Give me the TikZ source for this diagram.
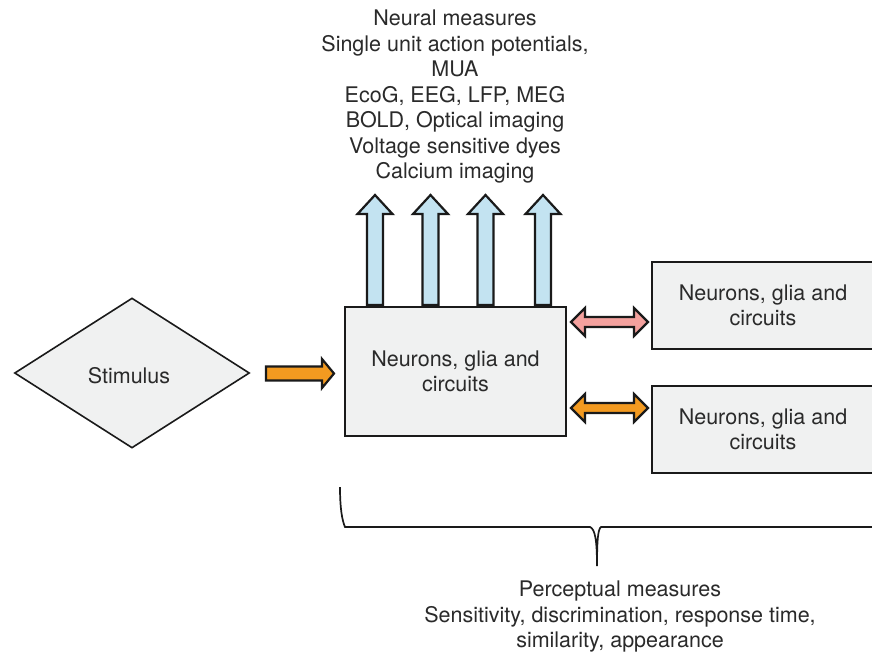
\documentclass[tikz,border=0pt]{standalone}
\usepackage{fontspec}
\setmainfont{TeX Gyre Heros}
\usetikzlibrary{shapes.geometric}
\definecolor{boxfill}{HTML}{F0F1F1}
\definecolor{txt}{HTML}{2A2A2A}
\definecolor{bluefill}{HTML}{C3E3F1}
\definecolor{pinkfill}{HTML}{F4A19E}
\definecolor{orangefill}{HTML}{F39A20}
\definecolor{edge}{HTML}{1A1A1A}
\newcommand\myuparrow[1]{%
  \draw[blockarrow, fill=bluefill] (#1-8,305) -- (#1-8,214) -- (#1-17.5,214) -- (#1,195)
    -- (#1+17.5,214) -- (#1+8,214) -- (#1+8,305) -- cycle;}
\newcommand\mydblarrow[2]{%
  \draw[blockarrow, fill=#2] (571,#1) -- (585,#1-14) -- (585,#1-5) -- (634,#1-5) -- (634,#1-14)
    -- (648,#1) -- (634,#1+14) -- (634,#1+5) -- (585,#1+5) -- (585,#1+14) -- cycle;}
\tikzset{
  every node/.style={font=\fontsize{21.5}{25.5}\selectfont, text=txt},
  box/.style={draw=edge, line width=2.2pt, fill=boxfill, rectangle, inner sep=0pt, align=center},
  blockarrow/.style={draw=edge, line width=2.2pt, line join=miter},
  label/.style={align=center, inner sep=0pt},
}
\begin{document}
\begin{tikzpicture}[x=1pt,y=-1pt]
\clip (0,0) rectangle (872,651);
\fill[white] (0,0) rectangle (872,651);

% top text
\node[label] (neural) at (455,97) {Neural measures\\Single unit action potentials,\\MUA\\EcoG, EEG, LFP, MEG\\BOLD, Optical imaging\\Voltage sensitive dyes\\Calcium imaging};

% stimulus
\node[diamond, draw=edge, line width=1.6pt, fill=boxfill, minimum width=235pt, minimum height=150pt, inner sep=0pt] (stim) at (132,373) {};
\node[label] (stimtext) at (129,376) {Stimulus};

% main box
\node[box, minimum width=221pt, minimum height=129pt] (main) at (455.5,371.5) {Neurons, glia and\\circuits};

% right boxes
\node[box, minimum width=222pt, minimum height=87pt] (r1) at (763,305.5) {Neurons, glia and\\circuits};
\node[box, minimum width=222pt, minimum height=87pt] (r2) at (763,429.5) {Neurons, glia and\\circuits};

% up arrows
\myuparrow{375}
\myuparrow{430.5}
\myuparrow{485.5}
\myuparrow{543}

% orange right arrow
\draw[blockarrow, fill=orangefill] (266,366.5) -- (322,366.5) -- (322,359) -- (334,373.5)
  -- (322,388) -- (322,380.5) -- (266,380.5) -- cycle;

% double arrows
\mydblarrow{322}{pinkfill}
\mydblarrow{408}{orangefill}

% brace
\draw[edge, line width=1.7pt] (340,487) .. controls (340,508) and (342,520) .. (345,527)
  -- (590,527) .. controls (595,529) and (597,540) .. (597,566)
  .. controls (597,540) and (598,529) .. (601,527) -- (875,527);

% perceptual text
\node[label] (percept) at (620,616.5) {Perceptual measures\\Sensitivity, discrimination, response time,\\similarity, appearance};
\end{tikzpicture}
\end{document}
